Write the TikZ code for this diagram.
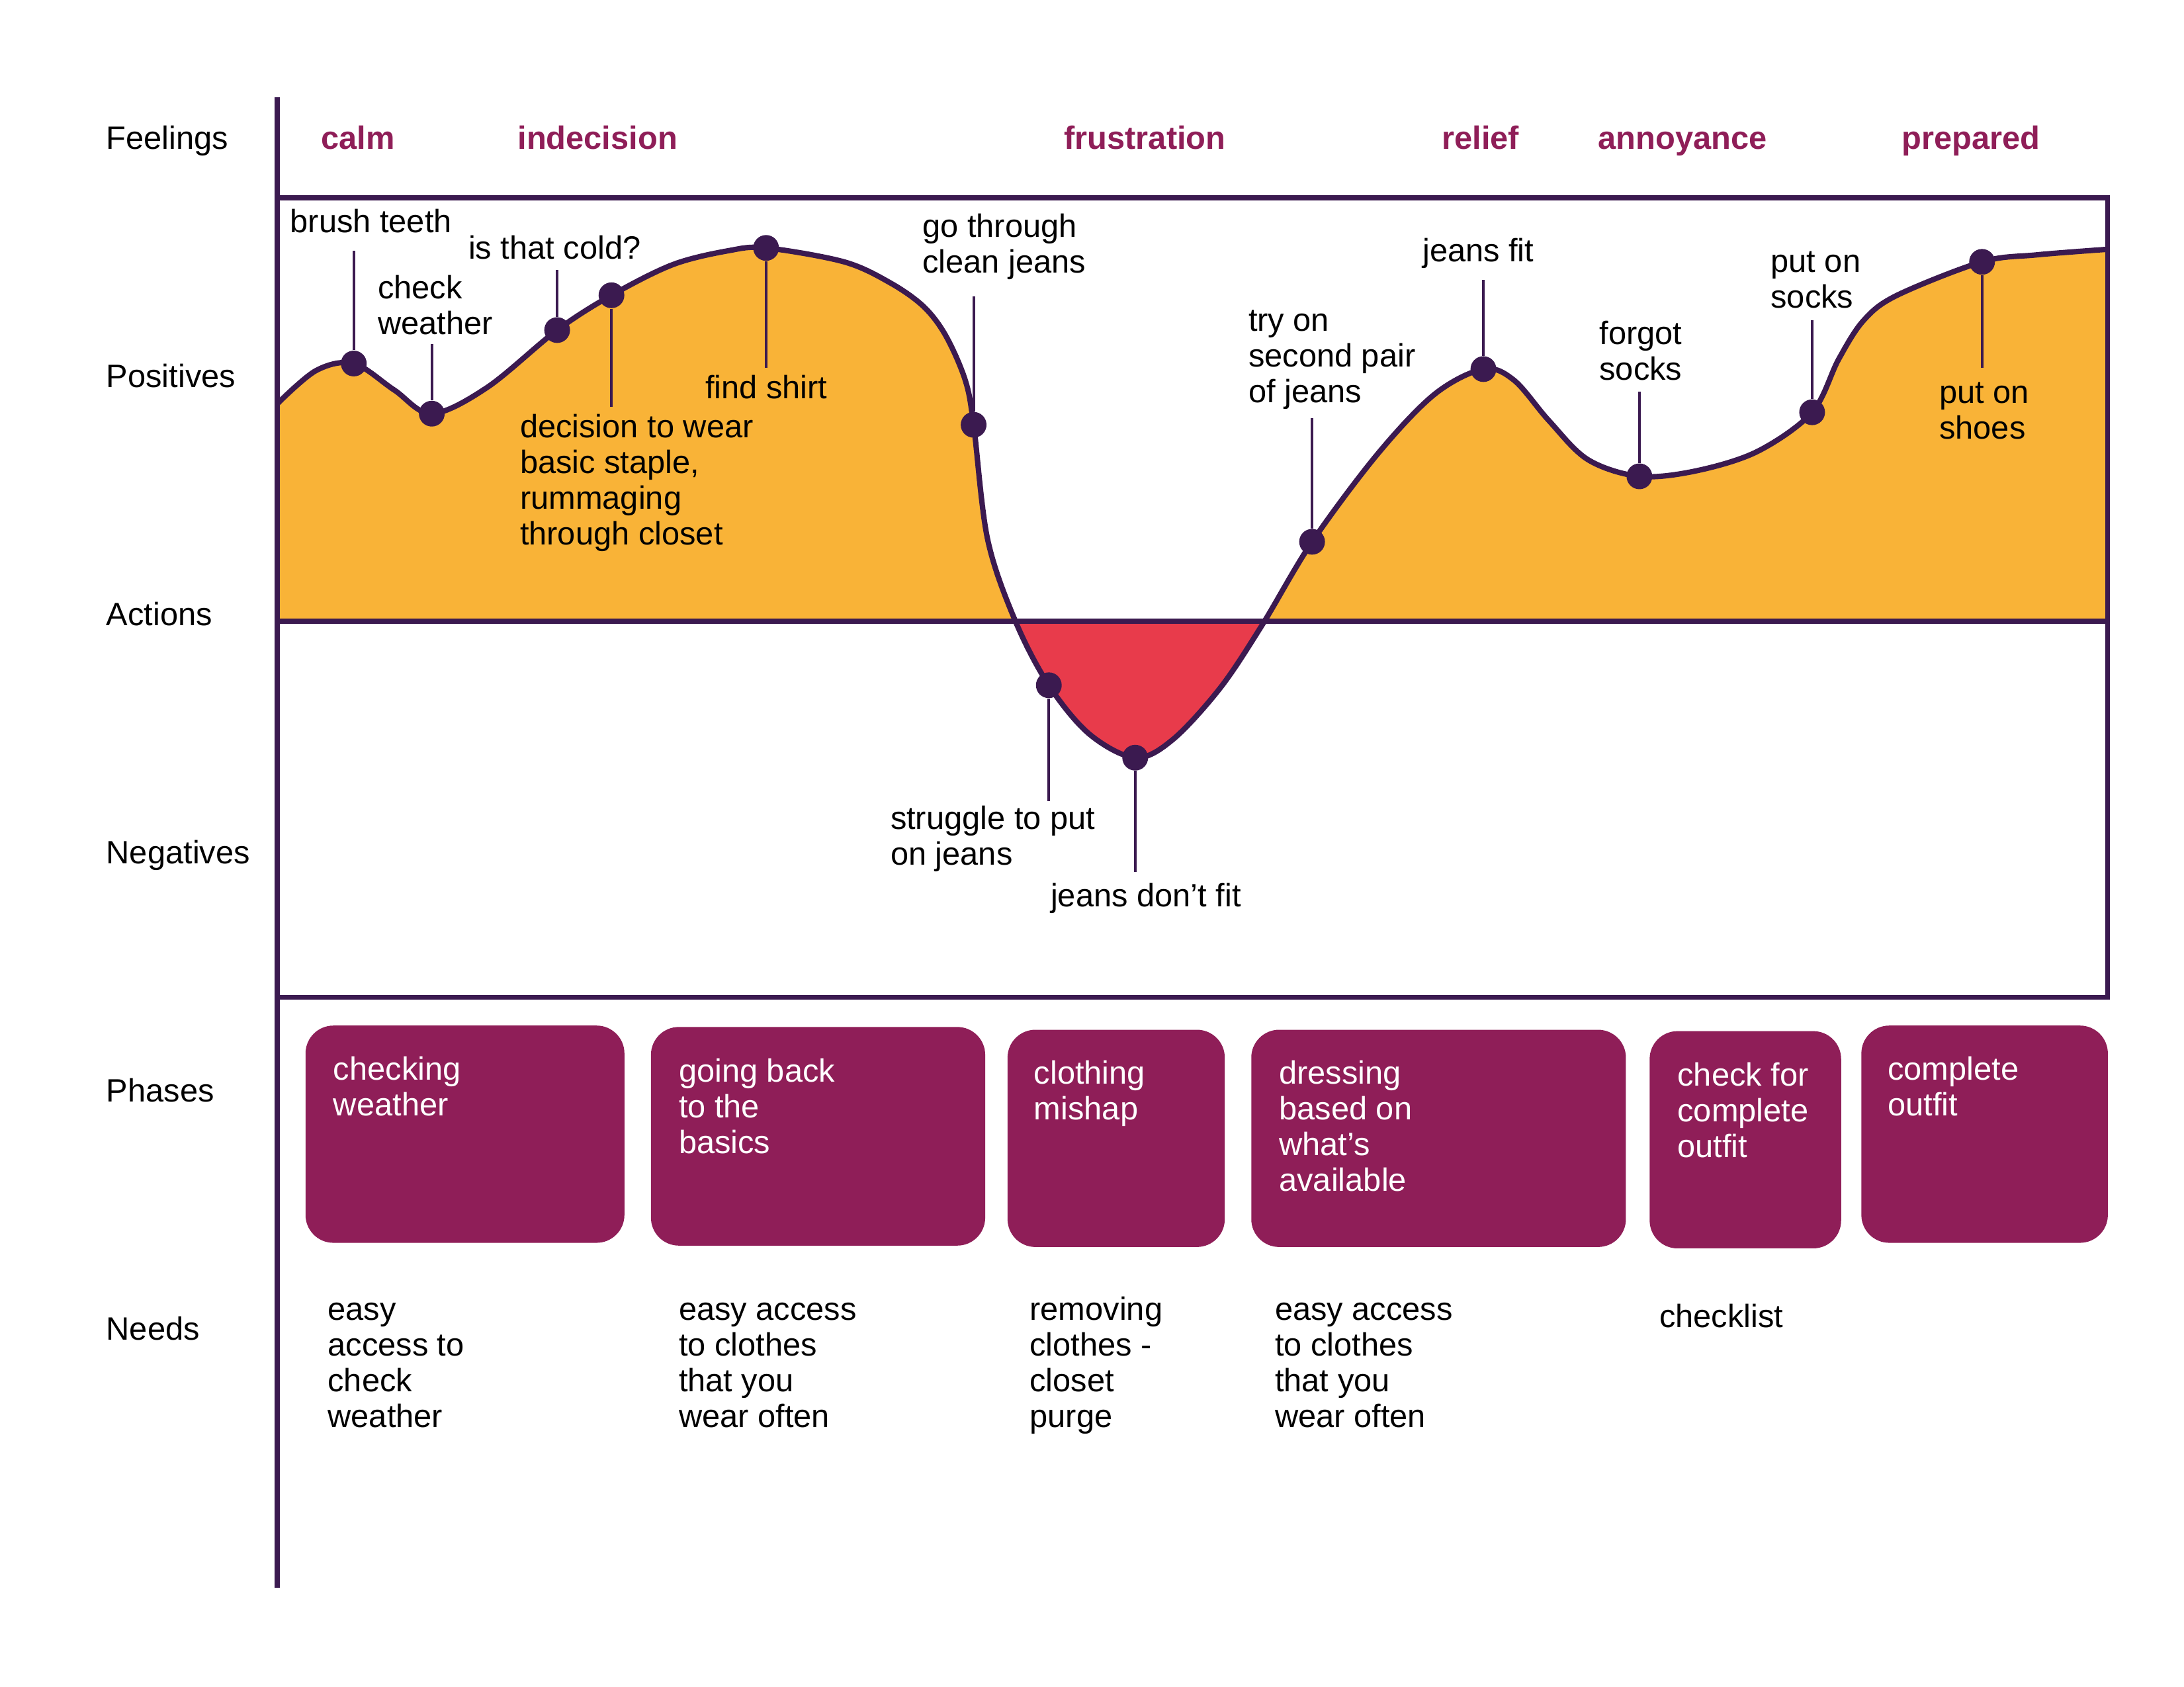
\documentclass[tikz,border=0pt]{standalone}
\usepackage{fontspec}
\setmainfont{Liberation Sans}
\usepackage{tikz}
\usetikzlibrary{positioning,calc}

\definecolor{linepurple}{HTML}{3B1A50}
\definecolor{plum}{HTML}{8F1E58}
\definecolor{mood}{HTML}{F9B337}
\definecolor{lowmood}{HTML}{E83B4B}

\tikzset{
  frame/.style={line width=2pt, draw=linepurple},
  journey/.style={line width=2.2pt, draw=linepurple},
  stem/.style={line width=1.1pt, draw=linepurple},
  event/.style={circle, fill=linepurple, inner sep=0pt, minimum size=0.37cm},
  rowlabel/.style={anchor=base west, inner sep=0pt, font=\fontsize{13.2}{14.6}\selectfont},
  feeling/.style={anchor=base, inner sep=0pt, text=plum, font=\fontsize{13.2}{14.6}\selectfont\bfseries},
  note/.style={anchor=base west, inner sep=0pt, align=left, font=\fontsize{13.2}{14.6}\selectfont},
  phase/.style={anchor=north west, fill=plum, rounded corners=0.4cm, inner sep=0pt},
  phasetext/.style={note, text=white}
}

\def\journeycurve{plot[smooth, tension=0.55] coordinates {(199,290) (227,266) (254,261)
  (283,280) (310,297) (350,278) (400,237) (439,212) (483,190) (523,180) (550,178)
  (606,188) (639,203) (663,220) (679,241) (693,273) (699,305) (709,387) (729,446)
  (753,492) (782,527) (815,544) (842,531) (876,494) (906,449) (942,389) (989,326)
  (1030,283) (1065,265) (1087,273) (1112,302) (1140,330) (1177,342) (1218,338)
  (1262,324) (1301,296) (1320,258) (1338,230) (1362,212) (1423,188) (1462,183)
  (1513,179)}}

\begin{document}
\begin{tikzpicture}[x=0.02cm, y=-0.02cm]
    \useasboundingbox (0,0) rectangle (1568,1211);

    % area under the curve
    \begin{scope}
      \clip (199,142) rectangle (1513,446);
      \fill[mood] \journeycurve -- (1513,446) -- (199,446) -- cycle;
    \end{scope}
    \begin{scope}
      \clip (199,446) rectangle (1513,716);
      \fill[lowmood] \journeycurve -- (1513,446) -- (199,446) -- cycle;
    \end{scope}

    \draw[frame] (199,70) -- (199,1140);
    \draw[frame] (199,142) -- (1513,142) -- (1513,716) -- (199,716);
    \draw[frame] (199,446) -- (1513,446);
    \draw[journey] \journeycurve;

    % rows
    \node[rowlabel] (rfeel) at (76,107) {Feelings};
    \node[rowlabel] (rpos) at (76,278) {Positives};
    \node[rowlabel] (ract) at (76,449) {Actions};
    \node[rowlabel] (rneg) at (76,620) {Negatives};
    \node[rowlabel] (rphase) at (76,791) {Phases};
    \node[rowlabel] (rneed) at (76,962) {Needs};

    \node[feeling] (calm) at (257,107) {calm};
    \node[feeling] (indecision) at (429,107) {indecision};
    \node[feeling] (frustration) at (822,107) {frustration};
    \node[feeling] (relief) at (1063,107) {relief};
    \node[feeling] (annoyance) at (1208,107) {annoyance};
    \node[feeling] (prepared) at (1415,107) {prepared};

    % events on the curve
    \coordinate (brushend) at (254,180);
    \coordinate (weatherend) at (310,247);
    \coordinate (coldend) at (400,194);
    \coordinate (decisionend) at (439,292);
    \coordinate (shirtend) at (550,264);
    \coordinate (cleanend) at (699,213);
    \coordinate (struggleend) at (753,575);
    \coordinate (nofitend) at (815,626);
    \coordinate (secondend) at (942,300);
    \coordinate (fitend) at (1065,201);
    \coordinate (forgotend) at (1177,281);
    \coordinate (socksend) at (1301,230);
    \coordinate (shoesend) at (1423,264);

    \node[event] (brush) at (254,261) {};
    \node[event] (weather) at (310,297) {};
    \node[event] (cold) at (400,237) {};
    \node[event] (decision) at (439,212) {};
    \node[event] (shirt) at (550,178) {};
    \node[event] (clean) at (699,305) {};
    \node[event] (struggle) at (753,492) {};
    \node[event] (nofit) at (815,544) {};
    \node[event] (second) at (942,389) {};
    \node[event] (fit) at (1065,265) {};
    \node[event] (forgot) at (1177,342) {};
    \node[event] (socks) at (1301,296) {};
    \node[event] (shoes) at (1423,188) {};

    \foreach \ev in {brush,weather,cold,decision,shirt,clean,struggle,nofit,second,fit,forgot,socks,shoes}
      \draw[stem] (\ev) -- (\ev end);

    % labels sit on the baseline of their last line
    \node[note] (brushlbl) at (208,167) {brush teeth};
    \node[note] (weatherlbl) at (271,240) {check\\weather};
    \node[note] (coldlbl) at (336,186) {is that cold?};
    \node[note] (decisionlbl) at (373,391) {decision to wear\\basic staple,\\rummaging\\through closet};
    \node[note] (shirtlbl) at (506,286) {find shirt};
    \node[note] (cleanlbl) at (662,196) {go through\\clean jeans};
    \node[note] (strugglelbl) at (639,621) {struggle to put\\on jeans};
    \node[note] (nofitlbl) at (754,651) {jeans don’t fit};
    \node[note] (secondlbl) at (896,289) {try on\\second pair\\of jeans};
    \node[note] (fitlbl) at (1021,188) {jeans fit};
    \node[note] (forgotlbl) at (1148,273) {forgot\\socks};
    \node[note] (sockslbl) at (1271,221) {put on\\socks};
    \node[note] (shoeslbl) at (1392,315) {put on\\shoes};

    % phases
    \node[phase, minimum width=4.58cm, minimum height=3.12cm] (ph1) at (219,736) {};
    \node[phase, minimum width=4.8cm, minimum height=3.14cm] (ph2) at (467,737) {};
    \node[phase, minimum width=3.12cm, minimum height=3.12cm] (ph3) at (723,739) {};
    \node[phase, minimum width=5.38cm, minimum height=3.12cm] (ph4) at (898,739) {};
    \node[phase, minimum width=2.75cm, minimum height=3.12cm] (ph5) at (1184,740) {};
    \node[phase, minimum width=3.54cm, minimum height=3.12cm] (ph6) at (1336,736) {};

    \node[phasetext] (ph1txt) at (239,801) {checking\\weather};
    \node[phasetext] (ph2txt) at (487,828) {going back\\to the\\basics};
    \node[phasetext] (ph3txt) at (742,804) {clothing\\mishap};
    \node[phasetext] (ph4txt) at (918,855) {dressing\\based on\\what’s\\available};
    \node[phasetext] (ph5txt) at (1204,831) {check for\\complete\\outfit};
    \node[phasetext] (ph6txt) at (1355,801) {complete\\outfit};

    % needs
    \node[note] (need1) at (235,1025) {easy\\access to\\check\\weather};
    \node[note] (need2) at (487,1025) {easy access\\to clothes\\that you\\wear often};
    \node[note] (need3) at (739,1025) {removing\\clothes -\\closet\\purge};
    \node[note] (need4) at (915,1025) {easy access\\to clothes\\that you\\wear often};
    \node[note] (need5) at (1191,953) {checklist};

  \end{tikzpicture}
\end{document}
